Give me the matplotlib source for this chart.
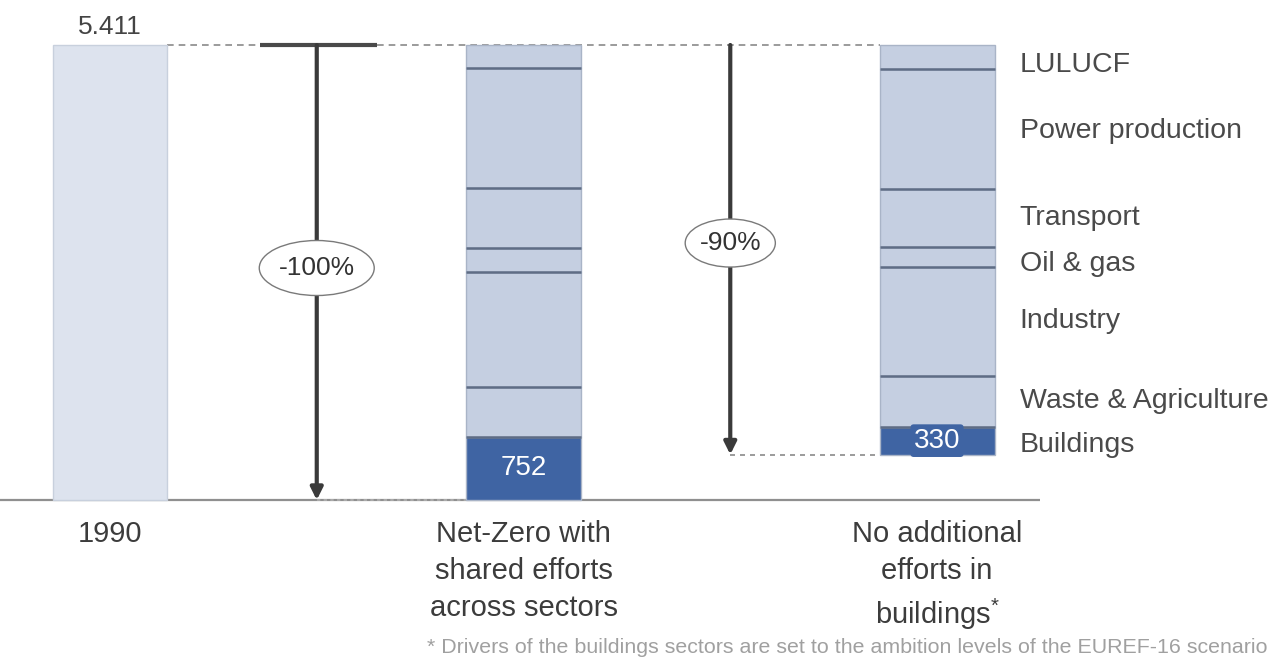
import numpy as np
import matplotlib.pyplot as plt
from matplotlib.patches import Ellipse

plt.rcParams['font.family'] = ['Liberation Sans', 'DejaVu Sans']
plt.rcParams['mathtext.fontset'] = 'custom'
plt.rcParams['mathtext.rm'] = 'Liberation Sans'
plt.rcParams['mathtext.default'] = 'regular'

# emissions, Mt CO2-eq
base_1990 = 5411
sectors = ['LULUCF', 'Power production', 'Transport', 'Oil & gas',
           'Industry', 'Waste & Agriculture', 'Buildings']
net_zero = [273, 1427, 713, 285, 1366, 595, 752]
no_additional = [283, 1427, 690, 238, 1296, 606, 330]
pct_labels = ['-100%', '-90%']
scenarios = ['1990', 'Net-Zero with\nshared efforts\nacross sectors',
             'No additional\nefforts in\nbuildings$^{*}$']
footnote = '* Drivers of the buildings sectors are set to the ambition levels of the EUREF-16 scenario'

light = '#dde3ee'
mid = '#c5cfe1'
dark = '#3f64a3'
line_col = '#5f6d85'
txt = '#3c3c3c'

fig = plt.figure(figsize=(12.79, 6.63), dpi=100)
ax = fig.add_axes([0, 0, 1, 1])
ax.set_xlim(-0.266, 2.827)
ax.set_ylim(-1938, 5946)
ax.axis('off')

w = 0.278
x = np.arange(3)

# 1990 bar
ax.bar(x[0], base_1990, w, color=light, edgecolor='#c8d0dd', lw=1, zorder=3)
ax.text(x[0], base_1990 + 70, f'{base_1990/1000:.3f}', ha='center', va='bottom',
        fontsize=19, color='#444444')

# stacked reduction bars, buildings at the bottom
def stacked(xpos, values, start):
    bottom = start
    tops = []
    for name, v in zip(reversed(sectors), reversed(values)):
        col = dark if name == 'Buildings' else mid
        ax.bar(xpos, v, w, bottom=bottom, color=col, edgecolor='#a9b4c7', lw=1, zorder=3)
        bottom += v
        tops.append(bottom)
    ax.hlines(tops[:-1], xpos - w / 2, xpos + w / 2, color=line_col, lw=1.8, zorder=4)
    return tops

residual = base_1990 - sum(no_additional)
stacked(x[1], net_zero, 0)
tops2 = stacked(x[2], no_additional, residual)

ax.text(x[1], net_zero[-1] / 2, str(net_zero[-1]), ha='center', va='center',
        fontsize=20, color='white', zorder=5)
ax.text(x[2], residual + no_additional[-1] / 2, str(no_additional[-1]), ha='center', va='center',
        fontsize=20, color='white', zorder=5,
        bbox=dict(boxstyle='round,pad=0.12', fc=dark, ec='none'))

# sector labels next to last bar (small nudges downward, in data units)
nudge = {'LULUCF': -100, 'Oil & gas': -80, 'Buildings': -50, 'Power production': -30}
bottoms2 = [residual] + tops2[:-1]
for name, b, t in zip(reversed(sectors), bottoms2, tops2):
    ax.text(2.200, (b + t) / 2 + nudge.get(name, 0), name, ha='left', va='center',
            fontsize=20.5, color='#4a4a4a')

# guide lines
ax.hlines(base_1990, x[0] + w / 2, x[2] - w / 2, color='#8a8a8a', lw=1.2,
          linestyles=(0, (4, 3)), zorder=1)
ax.hlines(residual, 1.5, x[2] - w / 2, color='#8a8a8a', lw=1.2,
          linestyles=(0, (3, 3)), zorder=1)
ax.hlines(0, -0.266, 2.249, color='#8f8f8f', lw=1.6, zorder=1)
ax.hlines(0, 0.5, x[1] - w / 2, color='#b0b0b0', lw=1.2, linestyles=(0, (2, 2)), zorder=2)
ax.hlines(base_1990, 0.363, 0.646, color='#4a4a4a', lw=3, zorder=2)

# reduction arrows with percentage bubbles
arrow_x = [0.5, 1.5]
arrow_end = [0, residual]
bubble_y = [2759, 3056]
bubble_w = [0.278, 0.218]
bubble_h = [654, 571]
for ax_x, end, by, bw, bh, lab in zip(arrow_x, arrow_end, bubble_y, bubble_w, bubble_h, pct_labels):
    ax.annotate('', xy=(ax_x, end), xytext=(ax_x, base_1990),
                arrowprops=dict(arrowstyle='-|>', color='#3a3a3a', lw=3,
                                mutation_scale=18, shrinkA=0, shrinkB=0), zorder=3)
    ax.add_patch(Ellipse((ax_x, by), bw, bh, fc='white', ec='#7a7a7a', lw=1, zorder=6))
    ax.text(ax_x, by, lab, ha='center', va='center', fontsize=19, color='#333333', zorder=7)

# category labels
for xi, lab in zip(x, scenarios):
    ax.text(xi, -235, lab, ha='center', va='top', fontsize=21, color=txt, linespacing=1.42)

ax.text(2.799, -1755, footnote, ha='right', va='center', fontsize=15.4, color='#a0a0a0')

fig.savefig('out.png', dpi=100)
